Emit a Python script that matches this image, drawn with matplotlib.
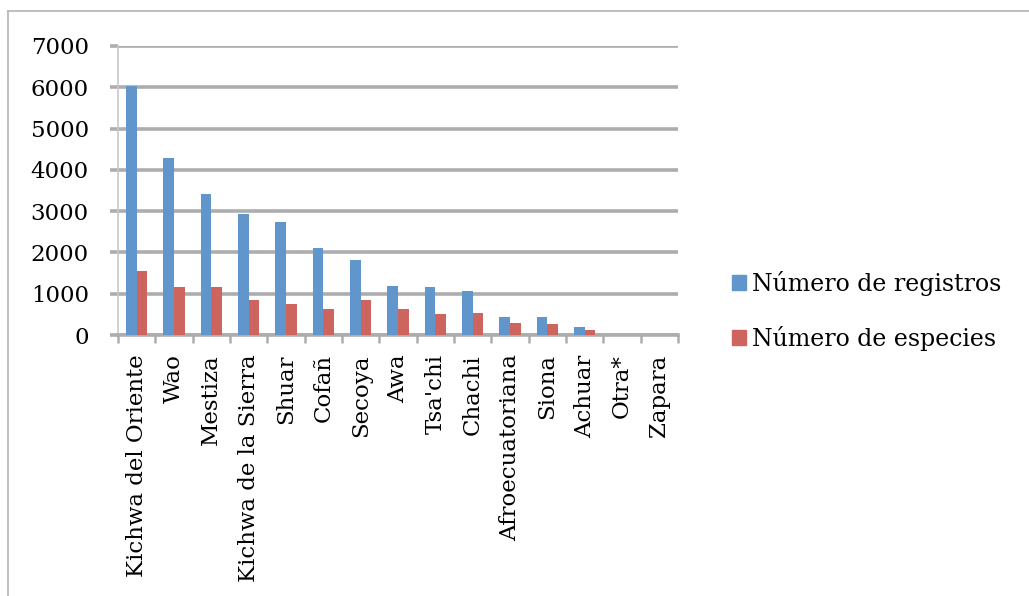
import matplotlib

matplotlib.use("Agg")
import matplotlib.pyplot as plt
import numpy as np
from matplotlib.lines import Line2D

categories = ["Kichwa del Oriente", "Wao", "Mestiza", "Kichwa de la Sierra", "Shuar",
              "Cofañ", "Secoya", "Awa", "Tsa'chi", "Chachi", "Afroecuatoriana",
              "Siona", "Achuar", "Otra*", "Zapara"]
registros = [6030, 4290, 3420, 2930, 2740, 2110, 1820, 1190, 1160, 1060, 440, 440, 195, 0, 0]
especies = [1560, 1170, 1170, 850, 760, 640, 850, 630, 510, 530, 290, 270, 120, 0, 0]
yticks = [0, 1000, 2000, 3000, 4000, 5000, 6000, 7000]

BLUE = "#6096CC"
RED = "#CD645E"
GRID = "#ADADAD"

plt.rcParams["font.family"] = ["DejaVu Serif"]

W, H = 1029, 596
fig = plt.figure(figsize=(W / 100, H / 100), dpi=100)
ax = fig.add_axes([118 / W, 1 - 335 / H, 560 / W, 289 / H])

x = np.arange(len(categories))
bw = 0.29
ax.bar(x - bw / 2, registros, bw, color=BLUE, label="Número de registros", zorder=3)
ax.bar(x + bw / 2, especies, bw, color=RED, label="Número de especies", zorder=3)

ax.set_xlim(-0.5, len(categories) - 0.5)
ax.set_ylim(0, 7000)
ax.set_yticks(yticks)
ax.set_yticklabels([str(t) for t in yticks], fontsize=16.5)
ax.yaxis.grid(True, color=GRID, lw=2.6, zorder=0)
ax.set_axisbelow(True)
ax.tick_params(axis="y", length=6, width=2.6, color=GRID, pad=15)

# category labels centred, tick marks between categories
ax.set_xticks(x)
ax.set_xticklabels(categories, rotation=90, fontsize=16.5)
ax.tick_params(axis="x", length=0, pad=14)
ax.set_xticks(np.arange(-0.5, len(categories)), minor=True)
ax.tick_params(axis="x", which="minor", length=6, width=1.8, color=GRID, direction="out")

for s in ["top", "right"]:
    ax.spines[s].set_visible(False)
ax.spines["left"].set_color("#C8C8C8")
ax.spines["left"].set_linewidth(1.2)
ax.spines["bottom"].set_color(GRID)
ax.spines["bottom"].set_linewidth(2.6)

handles = [plt.Rectangle((0, 0), 1, 1, color=BLUE), plt.Rectangle((0, 0), 1, 1, color=RED)]
fig.legend(handles, ["Número de registros", "Número de especies"], loc="upper left",
           bbox_to_anchor=(715 / W, 1 - 254 / H), frameon=False, fontsize=17,
           handlelength=0.6, handleheight=0.6, handletextpad=0.25, labelspacing=1.3,
           borderpad=0.2)

# outer chart border (left and top only)
fig.add_artist(Line2D([8 / W, 8 / W], [0, 1 - 11 / H], color="#B4B4B4", lw=1.2))
fig.add_artist(Line2D([8 / W, 1], [1 - 11 / H, 1 - 11 / H], color="#B4B4B4", lw=1.2))

fig.savefig("out.png", dpi=100)
